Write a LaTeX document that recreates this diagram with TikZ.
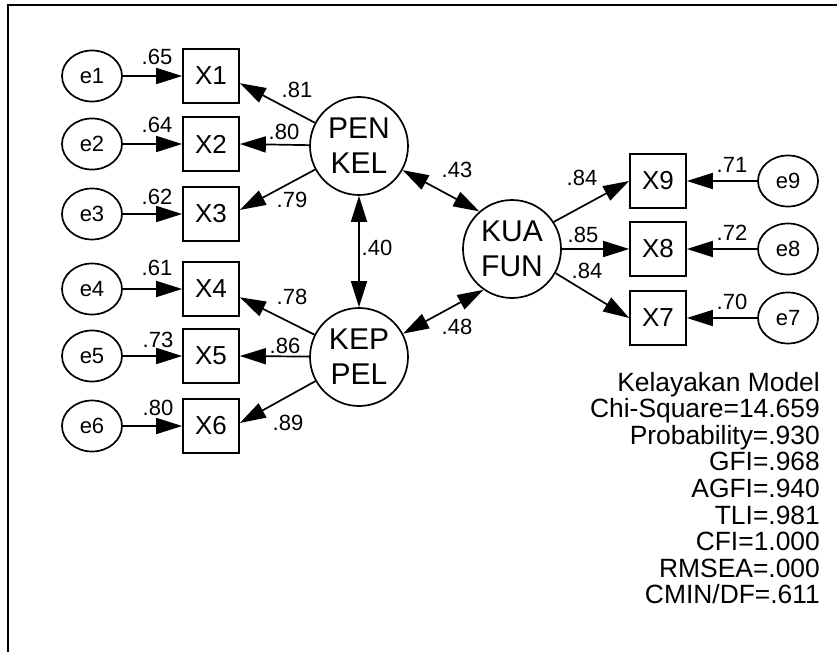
\documentclass[tikz,border=0pt]{standalone}
\usepackage{fontspec}
\setmainfont{Liberation Sans}
\usetikzlibrary{arrows.meta,shapes.geometric}
\tikzset{
  obs/.style={draw,line width=1.7pt,minimum width=56pt,minimum height=54pt,inner sep=0pt,font=\fontsize{26}{26}\selectfont},
  err/.style={draw,ellipse,line width=1.7pt,minimum width=60pt,minimum height=51pt,inner sep=0pt,font=\fontsize{22}{22}\selectfont},
  lat/.style={draw,circle,line width=1.7pt,minimum size=98pt,inner sep=0pt,align=center,font=\fontsize{30}{35}\selectfont},
  conn/.style={line width=1.7pt,-{Triangle[length=26pt,width=16pt]}},
  cov/.style={line width=1.7pt,{Triangle[length=26pt,width=16pt]}-{Triangle[length=26pt,width=16pt]}},
  lbl/.style={inner sep=0pt,font=\fontsize{22}{22}\selectfont},
  fit/.style={anchor=base east,inner sep=0pt,font=\fontsize{26.4}{26.4}\selectfont}
}
\begin{document}
\begin{tikzpicture}[x=1pt,y=-1pt]
\useasboundingbox (0,0) rectangle (837,652);
\draw[line width=1.8pt] (8,652) -- (8,5) -- (837,5);
% observed left
\node[obs] (X1) at (211,76) {X1};
\node[obs] (X2) at (211,144) {X2};
\node[obs] (X3) at (211,214) {X3};
\node[obs] (X4) at (211,289) {X4};
\node[obs] (X5) at (211,356) {X5};
\node[obs] (X6) at (211,426) {X6};
\node[err] (e1) at (92,76) {e1};
\node[err] (e2) at (92,144) {e2};
\node[err] (e3) at (92,214) {e3};
\node[err] (e4) at (92,289) {e4};
\node[err] (e5) at (92,356) {e5};
\node[err] (e6) at (92,426) {e6};
% latent
\node[lat] (PEN) at (359,146) {PEN\\KEL};
\node[lat] (KEP) at (359,357) {KEP\\PEL};
\node[lat] (KUA) at (512,249) {KUA\\FUN};
% right
\node[obs] (X9) at (658,181) {X9};
\node[obs] (X8) at (658,249) {X8};
\node[obs] (X7) at (658,318) {X7};
\node[err] (e9) at (788,181) {e9};
\node[err] (e8) at (788,249) {e8};
\node[err] (e7) at (788,318) {e7};
% error arrows
\foreach \i in {1,...,6} {\draw[conn] (e\i) -- (X\i);}
\foreach \i in {7,8,9} {\draw[conn] (e\i) -- (X\i);}
% loadings
\draw[conn] (PEN) -- (X1.-14);
\draw[conn] (PEN) -- (X2.east);
\draw[conn] (PEN) -- (X3.8);
\draw[conn] (KEP) -- (X4.-16);
\draw[conn] (KEP) -- (X5.east);
\draw[conn] (KEP) -- (X6.6);
\draw[conn] (KUA.33) -- (X9.west);
\draw[conn] (KUA) -- (X8.west);
\draw[conn] (KUA.-29) -- (X7.west);
% covariances
\draw[cov] (PEN.-90) -- (KEP.90);
\draw[cov] (PEN.-29) -- (KUA.131);
\draw[cov] (KEP.28) -- (KUA.-125);
% labels
\node[lbl] at (157,57) {.65};
\node[lbl] at (157,125) {.64};
\node[lbl] at (157,197) {.62};
\node[lbl] at (157,268) {.61};
\node[lbl] at (158,340) {.73};
\node[lbl] at (158,408) {.80};
\node[lbl] at (297,90) {.81};
\node[lbl] at (284,132) {.80};
\node[lbl] at (292,200) {.79};
\node[lbl] at (292,297) {.78};
\node[lbl] at (285,346) {.86};
\node[lbl] at (288,423) {.89};
\node[lbl] at (377,248) {.40};
\node[lbl] at (457,170) {.43};
\node[lbl] at (457,327) {.48};
\node[lbl] at (582,178) {.84};
\node[lbl] at (583,235) {.85};
\node[lbl] at (587,271) {.84};
\node[lbl] at (732,165) {.71};
\node[lbl] at (732,233) {.72};
\node[lbl] at (732,302) {.70};
% fit indices
\node[fit] (f1) at (820,391) {Kelayakan Model};
\node[fit] (f2) at (820,417.6) {Chi-Square=14.659};
\node[fit] (f3) at (820,444.2) {Probability=.930};
\node[fit] (f4) at (820,470.8) {GFI=.968};
\node[fit] (f5) at (820,497.4) {AGFI=.940};
\node[fit] (f6) at (820,524) {TLI=.981};
\node[fit] (f7) at (820,550.6) {CFI=1.000};
\node[fit] (f8) at (820,577.2) {RMSEA=.000};
\node[fit] (f9) at (820,603.8) {CMIN/DF=.611};
\end{tikzpicture}
\end{document}
